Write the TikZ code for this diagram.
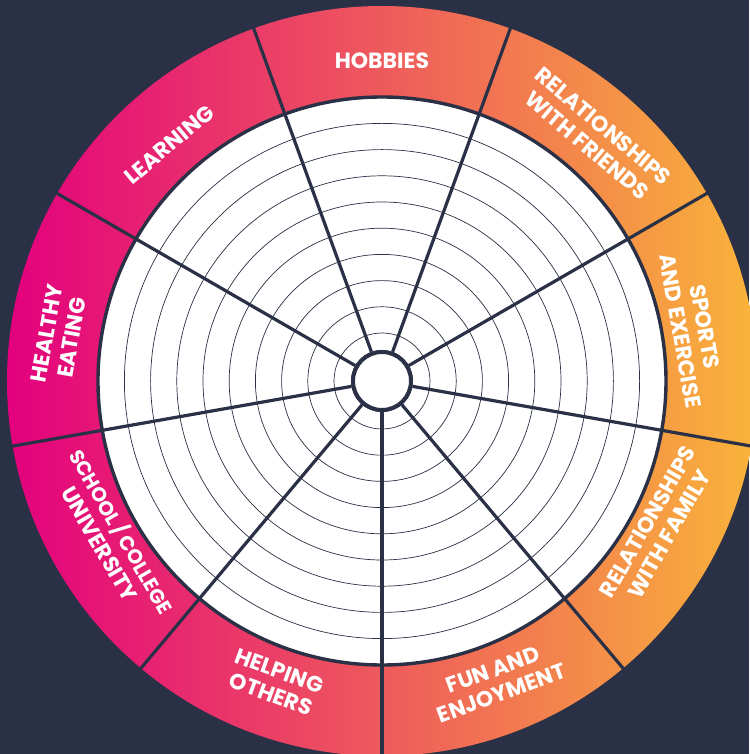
\documentclass[tikz,border=0pt]{standalone}
\usepackage{fontspec}
\setmainfont{Poppins}
\usepackage{xcolor}
\definecolor{navy}{HTML}{2A3045}
\definecolor{wheelmagenta}{HTML}{E3007E}
\definecolor{wheelpink}{HTML}{EC6A78}
\definecolor{wheelorange}{HTML}{F9B43A}

\tikzset{
  segtext/.style={text=white,font=\bfseries\fontsize{22}{25}\selectfont,align=center,inner sep=0pt},
  spoke/.style={navy,line width=3.2pt},
  ringline/.style={navy,line width=0.7pt}
}

\begin{document}
\begin{tikzpicture}[x=1pt,y=1pt]
		\fill[navy] (-382,-373) rectangle (367,381);
		\useasboundingbox (-382,-373) rectangle (367,381);
		% coloured ring and white disc
		\shade[left color=wheelmagenta,middle color=wheelpink,right color=wheelorange] (0,0) circle (375);
		\fill[white] (0,0) circle (284);
		\foreach \k in {0,...,8}
			\draw[ringline] (0,0) circle ({48+26.2*\k});
		\draw[navy,line width=3.4pt] (0,0) circle (284);
		\node[circle,draw=navy,fill=white,line width=4pt,minimum size=58pt,inner sep=0pt] (hub) at (0,0) {};
		% spokes
		\foreach \a in {110,70,30,-10,-50,-90,-130,-170,150} {
			\coordinate (rim\a) at (\a:376);
			\draw[spoke] (hub.\a) -- (rim\a);
		}
		\node[circle,draw=navy,fill=white,line width=4pt,minimum size=58pt,inner sep=0pt] at (hub) {};
		% labels
		\foreach \ang/\rad/\rot/\txt/\nm in {90/320/0/{HOBBIES}/hobbies,
				49/325/-40/{RELATIONSHIPS\\WITH FRIENDS}/friends,
				9.5/315/-80/{SPORTS\\AND EXERCISE}/sports,
				-28/313/60/{RELATIONSHIPS\\WITH FAMILY}/family,
				-69/322/20/{FUN AND\\ENJOYMENT}/fun,
				-109.5/320/-20/{HELPING\\OTHERS}/helping,
				-150/312/-60/{\fontsize{20}{25}\selectfont SCHOOL\,/\,COLLEGE\\UNIVERSITY}/school,
				172/326/80/{HEALTHY\\EATING}/healthy,
				132/318/40/{LEARNING}/learning}
			\node[segtext,rotate=\rot] (\nm) at (\ang:\rad) {\txt};
\end{tikzpicture}
\end{document}
